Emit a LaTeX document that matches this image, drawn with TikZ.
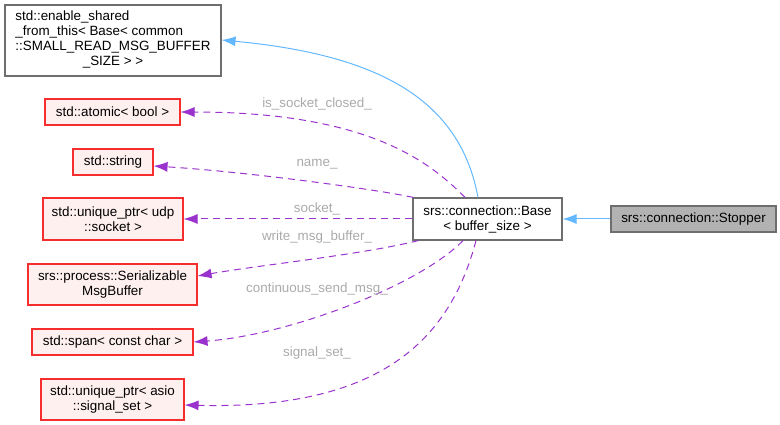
\documentclass[tikz,border=0pt]{standalone}
\usepackage{fontspec}
\setmainfont{Liberation Sans}
\usetikzlibrary{arrows.meta}
\definecolor{edgeblue}{RGB}{99,184,255}
\definecolor{edgepurple}{RGB}{154,50,205}
\definecolor{boxred}{RGB}{245,45,45}
\definecolor{boxfill}{RGB}{255,240,240}
\definecolor{boxgray}{RGB}{110,110,110}
\definecolor{lblgray}{RGB}{170,170,170}
\begin{document}
\begin{tikzpicture}[x=1pt, y=-1pt,
      every node/.style = {shape=rectangle, align=center, inner sep=0pt,
        font=\fontsize{13.4}{15}\selectfont},
      plainbox/.style = {draw=boxgray, fill=white, line width=1.1pt},
      memberbox/.style = {draw=boxred, fill=boxfill, line width=1.1pt},
      elabel/.style = {text=lblgray},
      inherit/.style = {draw=edgeblue, line width=1pt, -{Latex[length=14pt,width=10pt]}},
      member/.style = {draw=edgepurple, line width=1pt, dash pattern=on 7pt off 5pt,
        -{Latex[length=14pt,width=10pt]}}]
  \useasboundingbox (0,0) rectangle (780,425);
  \node[plainbox, minimum width=216, minimum height=71] (shared) at (113,40.5)
    {\begin{tabular}{@{}l@{}}std::enable\_shared\\ \_from\_this< Base< common\\
      ::SMALL\_READ\_MSG\_BUFFER\\ \multicolumn{1}{@{}c@{}}{\_SIZE > >}\end{tabular}};
  \node[memberbox, minimum width=135, minimum height=26] (atomic) at (112.5,112) {std::atomic< bool >};
  \node[memberbox, minimum width=80, minimum height=26] (string) at (113,162) {std::string};
  \node[memberbox, minimum width=140, minimum height=42] (socket) at (113,219) {std::unique\_ptr< udp\\ ::socket >};
  \node[memberbox, minimum width=169, minimum height=41] (buffer) at (112.5,284.5) {srs::process::Serializable\\ MsgBuffer};
  \node[memberbox, minimum width=161, minimum height=26] (span) at (112.5,342) {std::span< const char >};
  \node[memberbox, minimum width=143, minimum height=41] (signals) at (112.5,399.5) {std::unique\_ptr< asio\\ ::signal\_set >};
  \node[plainbox, minimum width=149, minimum height=42] (base) at (487.5,219) {srs::connection::Base\\ < buffer\_size >};
  \node[draw=boxgray, fill=gray!60, line width=1.1pt, minimum width=165, minimum height=26] (stopper) at (693.5,219) {srs::connection::Stopper};

  \draw[inherit] (stopper) -- (base);
  \draw[inherit] ([xshift=-9.5pt]base.north) .. controls (460,100) and (380,55) .. ([yshift=0.5pt]shared.east);
  \draw[member] ([xshift=-22.5pt]base.north) .. controls (430,162) and (368,112) .. (atomic.east);
  \draw[member] ([xshift=1pt]base.north west) .. controls (380,190) and (250,172) .. ([yshift=-4pt]string.east);
  \draw[member] (base.west) -- (socket.east);
  \draw[member] ([xshift=6pt]base.south west) .. controls (360,255) and (260,265) .. ([yshift=8.5pt]buffer.east);
  \draw[member] ([xshift=-24.5pt]base.south) .. controls (420,285) and (290,335) .. (span.east);
  \draw[member] ([xshift=-11.5pt]base.south) .. controls (450,340) and (380,410) .. ([yshift=-5.5pt]signals.east);

  \node[elabel] (l1) at (317,104) {is\_socket\_closed\_};
  \node[elabel] (l2) at (317,164) {name\_};
  \node[elabel] (l3) at (317,209) {socket\_};
  \node[elabel] (l4) at (317,237) {write\_msg\_buffer\_};
  \node[elabel] (l5) at (317,289) {continuous\_send\_msg\_};
  \node[elabel] (l6) at (317,353) {signal\_set\_};
\end{tikzpicture}
\end{document}
